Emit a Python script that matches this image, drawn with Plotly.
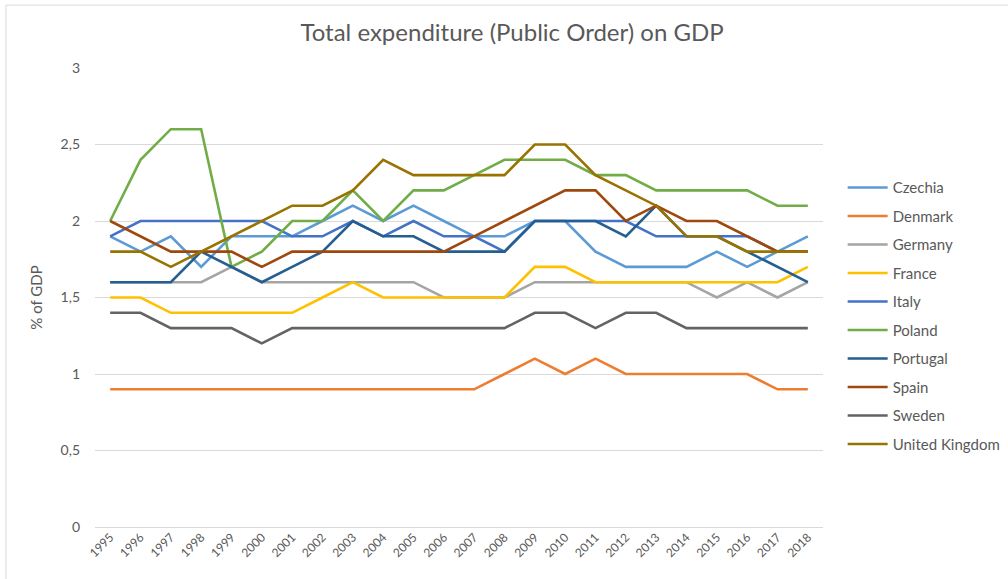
import plotly.graph_objects as go

years = [str(y) for y in range(1995, 2019)]

czechia  = [1.9,1.8,1.9,1.7,1.9,1.9,1.9,2.0,2.1,2.0,2.1,2.0,1.9,1.9,2.0,2.0,1.8,1.7,1.7,1.7,1.8,1.7,1.8,1.9]
denmark  = [0.9,0.9,0.9,0.9,0.9,0.9,0.9,0.9,0.9,0.9,0.9,0.9,0.9,1.0,1.1,1.0,1.1,1.0,1.0,1.0,1.0,1.0,0.9,0.9]
germany  = [1.6,1.6,1.6,1.6,1.7,1.6,1.6,1.6,1.6,1.6,1.6,1.5,1.5,1.5,1.6,1.6,1.6,1.6,1.6,1.6,1.5,1.6,1.5,1.6]
france   = [1.5,1.5,1.4,1.4,1.4,1.4,1.4,1.5,1.6,1.5,1.5,1.5,1.5,1.5,1.7,1.7,1.6,1.6,1.6,1.6,1.6,1.6,1.6,1.7]
italy    = [1.9,2.0,2.0,2.0,2.0,2.0,1.9,1.9,2.0,1.9,2.0,1.9,1.9,1.8,2.0,2.0,2.0,2.0,1.9,1.9,1.9,1.9,1.8,1.8]
poland   = [2.0,2.4,2.6,2.6,1.7,1.8,2.0,2.0,2.2,2.0,2.2,2.2,2.3,2.4,2.4,2.4,2.3,2.3,2.2,2.2,2.2,2.2,2.1,2.1]
portugal = [1.6,1.6,1.6,1.8,1.7,1.6,1.7,1.8,2.0,1.9,1.9,1.8,1.8,1.8,2.0,2.0,2.0,1.9,2.1,1.9,1.9,1.8,1.7,1.6]
spain    = [2.0,1.9,1.8,1.8,1.8,1.7,1.8,1.8,1.8,1.8,1.8,1.8,1.9,2.0,2.1,2.2,2.2,2.0,2.1,2.0,2.0,1.9,1.8,1.8]
sweden   = [1.4,1.4,1.3,1.3,1.3,1.2,1.3,1.3,1.3,1.3,1.3,1.3,1.3,1.3,1.4,1.4,1.3,1.4,1.4,1.3,1.3,1.3,1.3,1.3]
uk       = [1.8,1.8,1.7,1.8,1.9,2.0,2.1,2.1,2.2,2.4,2.3,2.3,2.3,2.3,2.5,2.5,2.3,2.2,2.1,1.9,1.9,1.8,1.8,1.8]

series = [
    ("Czechia", czechia, "#5B9BD5"),
    ("Denmark", denmark, "#ED7D31"),
    ("Germany", germany, "#A5A5A5"),
    ("France", france, "#FFC000"),
    ("Italy", italy, "#4472C4"),
    ("Poland", poland, "#70AD47"),
    ("Portugal", portugal, "#255E91"),
    ("Spain", spain, "#9E480E"),
    ("Sweden", sweden, "#636363"),
    ("United Kingdom", uk, "#997300"),
]

fig = go.Figure()
for name, vals, col in series:
    fig.add_trace(go.Scatter(x=years, y=vals, name=name, mode="lines",
                             legendgroup=name,
                             line=dict(color=col, width=2.6)))

font_family = "Lato, Open Sans, sans-serif"
fig.update_layout(
    width=1008, height=579,
    margin=dict(l=95, r=185, t=68, b=52, autoexpand=False),
    paper_bgcolor="white", plot_bgcolor="white",
    separators=", ",
    font=dict(family=font_family, color="#595959", size=12),
    title=dict(text="Total expenditure (Public Order) on GDP", x=0.508, xanchor="center",
               xref="container", y=0.943, yanchor="middle",
               font=dict(size=24, color="#595959", family=font_family)),
    xaxis=dict(type="category", range=[-0.5, 23.5], tickangle=-45, showgrid=False,
               showline=False, ticks="", tickfont=dict(size=12, color="#595959")),
    yaxis=dict(range=[0, 3], dtick=0.5, showgrid=True, gridcolor="#D9D9D9", gridwidth=1,
               zeroline=True, zerolinecolor="#D9D9D9", zerolinewidth=1,
               ticks="", ticklen=0, ticklabelstandoff=14,
               tickfont=dict(size=14, color="#595959"),
               title=dict(text="% of GDP", font=dict(size=15, color="#595959"), standoff=14)),
    legend=dict(x=1.027, y=0.775, xanchor="left", yanchor="top",
                traceorder="grouped", tracegroupgap=6,
                font=dict(size=15, color="#595959"), itemwidth=40,
                bgcolor="rgba(0,0,0,0)"),
    shapes=[dict(type="rect", xref="paper", yref="paper",
                 x0=-0.1223, x1=1.3, y0=-0.2, y1=1.137,
                 line=dict(color="#D9D9D9", width=1), fillcolor="rgba(0,0,0,0)", layer="below")],
)

fig.write_html("out.html", config={"displayModeBar": False},
               post_script="document.body.style.margin='0';")
